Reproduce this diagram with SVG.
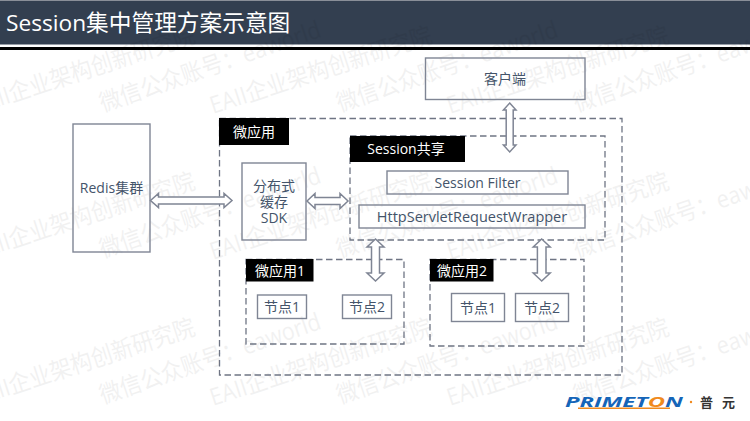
<svg xmlns="http://www.w3.org/2000/svg" xmlns:xlink="http://www.w3.org/1999/xlink" width="750" height="421" viewBox="0 0 750 421">
<style>
text{font-family:"Open Sans","Noto Sans CJK SC",sans-serif}
.b{fill:none;stroke:#7f8594;stroke-width:1.4}
.d{fill:none;stroke:#6f7584;stroke-width:1.3;stroke-dasharray:6.500 3.500}
.k{fill:#000}
.w{fill:#fff;font-size:14px;text-anchor:middle}
.t{fill:#44546a;font-size:14px;text-anchor:middle}
.a{fill:#fff;stroke:#7f8594;stroke-width:1.5;stroke-linejoin:miter}
.m{fill:#000;opacity:.05;font-size:24px}
</style>
<defs>
<g id="wm">
<text class="m" transform="translate(-24,114) rotate(-18)" textLength="232" lengthAdjust="spacingAndGlyphs">EAII企业架构创新研究院</text>
<text class="m" transform="translate(103,112) rotate(-19)" textLength="232" lengthAdjust="spacingAndGlyphs">微信公众账号：eaworld</text>
</g>
<g id="row"><use xlink:href="#wm" href="#wm"/><use xlink:href="#wm" href="#wm" x="237"/><use xlink:href="#wm" href="#wm" x="474"/></g>
</defs>
<rect width="750" height="421" fill="#fff"/>
<g id="header">
<rect width="750" height="44.500" fill="#333f50"/>
<rect width="750" height="1" fill="#8a8f98"/>
<rect y="47" width="750" height="3" fill="#000"/>
<text x="6" y="30.500" font-size="22.700" fill="#fff">Session集中管理方案示意图</text>
</g>
<g id="watermark"><use xlink:href="#row" href="#row"/><use xlink:href="#row" href="#row" y="146"/><use xlink:href="#row" href="#row" y="292"/></g>
<g id="redis"><rect class="b" x="73" y="124" width="77" height="128"/><text class="t" x="111.500" y="193">Redis集群</text></g>
<g id="client"><rect class="b" x="425.500" y="58" width="159.500" height="41.500"/><text class="t" x="505" y="84">客户端</text></g>
<g id="microapp"><rect class="d" x="219.500" y="118.500" width="402.500" height="256.500"/><rect class="k" x="219" y="118" width="70" height="27"/><text class="w" x="254" y="137">微应用</text></g>
<g id="sdk"><rect class="b" x="242" y="163" width="64" height="77"/><text class="t" y="191"><tspan x="274">分布式</tspan><tspan x="274" dy="16">缓存</tspan><tspan x="274" dy="16">SDK</tspan></text></g>
<g id="session"><rect class="d" x="350" y="136" width="255" height="104"/><rect class="k" x="350" y="136" width="115" height="26"/><text class="w" x="406" y="154">Session共享</text></g>
<g id="filter"><rect class="b" x="387" y="171" width="181" height="23"/><text class="t" x="477.500" y="188">Session Filter</text></g>
<g id="wrapper"><rect class="b" x="359" y="205" width="226" height="23"/><text class="t" x="472" y="222" style="font-size:14.500px">HttpServletRequestWrapper</text></g>
<g id="app1"><rect class="d" x="246" y="259.500" width="158" height="84.500"/><rect class="k" x="246" y="259" width="67.500" height="22.500"/><text class="w" x="280" y="276">微应用1</text></g>
<g id="app1-n1"><rect class="b" x="257.500" y="295" width="49" height="23.500"/><text class="t" x="282" y="312">节点1</text></g>
<g id="app1-n2"><rect class="b" x="342.500" y="295" width="49" height="23.500"/><text class="t" x="367" y="312">节点2</text></g>
<g id="app2"><rect class="d" x="430" y="259.500" width="154" height="86.500"/><rect class="k" x="430" y="259" width="63.500" height="22.500"/><text class="w" x="462" y="276">微应用2</text></g>
<g id="app2-n1"><rect class="b" x="451.500" y="293.500" width="53" height="28"/><text class="t" x="478" y="313">节点1</text></g>
<g id="app2-n2"><rect class="b" x="515.500" y="293.500" width="53" height="28"/><text class="t" x="542" y="313">节点2</text></g>
<g id="connectors">
<path class="a" d="M150.500 200.500L158.500 193.500V197H224V193.500L232 200.500L224 207.500V204H158.500V207.500Z"/>
<path class="a" d="M307 201L315 193.500V197.500H340V193.500L348 201L340 208.500V204.500H315V208.500Z"/>
<path class="a" d="M509.700 103L516 110H513.200V145H516L509.700 152L503.400 145H506.200V110H503.400Z"/>
<path class="a" d="M375.500 239L384 247H379.500V273H384L375.500 281L367 273H371.500V247H367Z"/>
<path class="a" d="M541.700 239L550.200 247H546V273H550.200L541.700 281L533.200 273H537.400V247H533.200Z"/>
</g>
<g id="logo">
<text x="565" y="406.500" font-family="Liberation Sans" font-size="14" font-style="italic" font-weight="700" fill="#1565b8" textLength="118" lengthAdjust="spacingAndGlyphs">PRIMET<tspan fill="#f08a1d">O</tspan>N</text>
<rect x="578" y="407.500" width="92" height="1.500" fill="#f08a1d"/>
<circle cx="691" cy="402" r="1.200" fill="#f08a1d"/>
<text x="700" y="407" font-size="13" font-weight="700" fill="#333" textLength="35">普元</text>
</g>
</svg>
